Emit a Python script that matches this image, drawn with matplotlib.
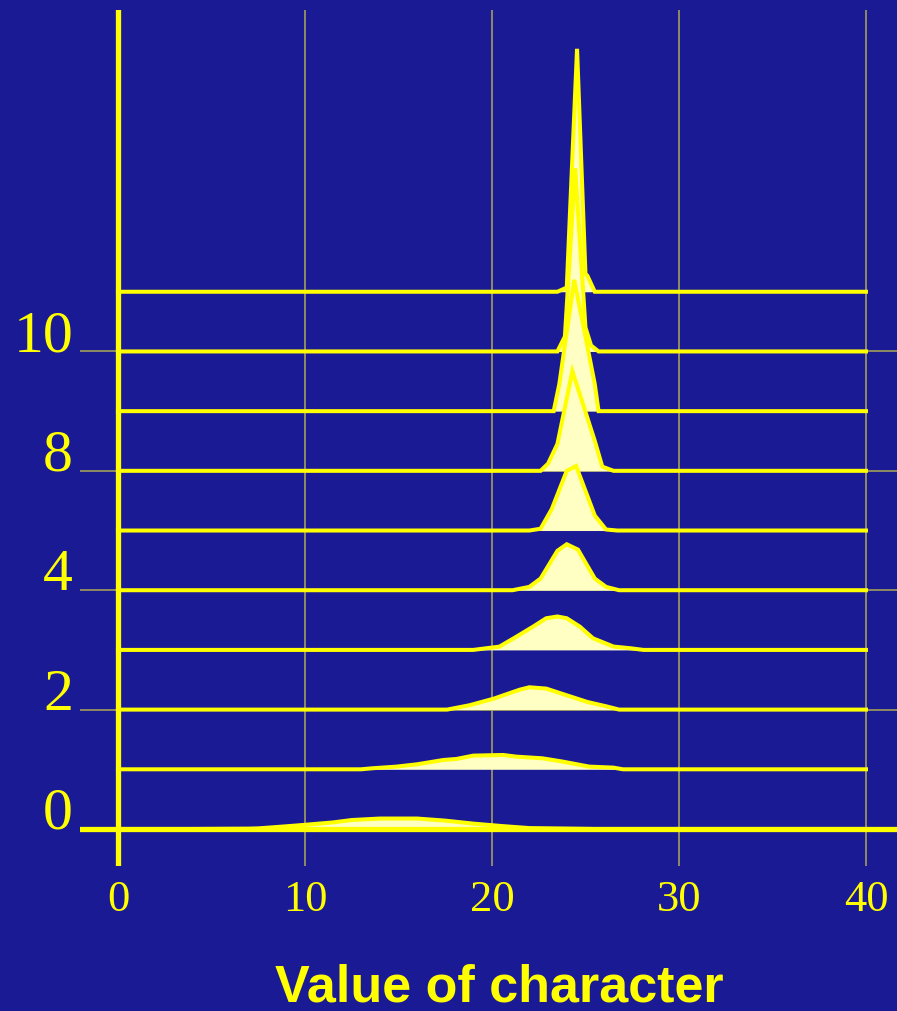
import numpy as np
import matplotlib as mpl
import matplotlib.pyplot as plt

mpl.rcParams['figure.dpi'] = 100

# spread of the character value, one row per generation (heights in row units)
g0_x = [4, 7, 7.5, 9, 10, 11.5, 12.5, 14, 16, 17.5, 19, 20.5, 22, 25.5]
g0_h = [0, 0.005, 0.01, 0.045, 0.07, 0.11, 0.15, 0.175, 0.175, 0.14, 0.09, 0.05, 0.015, 0]

g1_x = [13.0, 13.6, 14.9, 16.0, 17.4, 18.1, 19.0, 20.6, 21.3, 22.7, 23.8, 25.2, 26.5, 27.0]
g1_h = [0, 0.017, 0.045, 0.084, 0.156, 0.173, 0.229, 0.24, 0.212, 0.184, 0.128, 0.045, 0.028, 0]

g2_x = [17.6, 18.8, 20.1, 20.8, 21.5, 22.0, 22.9, 23.8, 25.1, 26.1, 26.8]
g2_h = [0, 0.073, 0.184, 0.26, 0.335, 0.374, 0.352, 0.26, 0.128, 0.056, 0]

g3_x = [19.0, 19.5, 20.4, 21.3, 22.2, 22.9, 23.5, 24.0, 24.7, 25.4, 26.5, 27.4, 28.1]
g3_h = [0, 0.02, 0.055, 0.22, 0.39, 0.53, 0.56, 0.53, 0.39, 0.195, 0.056, 0.028, 0]

g4_x = [21.1, 22.0, 22.6, 23.5, 24.0, 24.6, 25.5, 26.1, 26.8]
g4_h = [0, 0.056, 0.195, 0.66, 0.77, 0.68, 0.195, 0.056, 0]

g5_x = [22.0, 22.6, 23.2, 24.0, 24.5, 25.5, 26.1, 26.7]
g5_h = [0, 0.03, 0.36, 1.0, 1.08, 0.25, 0.017, 0]

g6_x = [22.6, 23.0, 23.5, 24.3, 25.5, 25.9, 26.5]
g6_h = [0, 0.12, 0.45, 1.67, 0.5, 0.07, 0]

g7_x = [23.3, 23.6, 24.4, 25.5, 25.7]
g7_h = [0, 0.45, 2.2, 0.45, 0]

g8_x = [23.5, 23.9, 24.45, 25.0, 25.3, 25.7]
g8_h = [0, 0.25, 3.07, 0.4, 0.1, 0]

g9_x = [23.5, 24.0, 24.55, 25.0, 25.1, 25.5]
g9_h = [0, 0.07, 4.07, 0.3, 0.27, 0]

rows = [(g0_x, g0_h), (g1_x, g1_h), (g2_x, g2_h), (g3_x, g3_h), (g4_x, g4_h),
        (g5_x, g5_h), (g6_x, g6_h), (g7_x, g7_h), (g8_x, g8_h), (g9_x, g9_h)]

y_ticks = [0, 2, 4, 6, 8]
y_labels = ['0', '2', '4', '8', '10']
x_ticks = [0, 10, 20, 30, 40]

bg = '#1b1a95'
yel = '#ffff00'
pale = '#ffffc4'
grid = '#a39d5a'

fig = plt.figure(figsize=(8.97, 10.11), facecolor=bg)
ax = fig.add_axes([80/897, 145/1011, 817/897, 856/1011])
ax.set_facecolor(bg)

# top rows first so lower rows sit on top of them
for k in range(len(rows) - 1, -1, -1):
    xs, hs = rows[k]
    xx = np.array([0] + list(xs) + [40], dtype='double')
    hh = np.array([0] + list(hs) + [0], dtype='double')
    z = 10 + (len(rows) - k) * 2
    ax.fill_between(xx, k, k + hh, color=pale, lw=0, zorder=z)
    ax.plot(xx, k + hh, color=yel, lw=2.9, solid_joinstyle='miter', zorder=z + 1)

ax.axvline(0, color=yel, lw=3.8, zorder=50)
ax.axhline(0, color=yel, lw=3.8, zorder=50)

ax.set_xlim(-2.03, 41.66)
ax.set_ylim(-0.62, 13.72)
ax.set_xticks(x_ticks)
ax.set_yticks(y_ticks)
ax.set_yticklabels(y_labels)
ax.grid(True, color=grid, lw=1.2, zorder=1)
ax.set_axisbelow(True)
for s in ax.spines.values():
    s.set_visible(False)

ax.tick_params(axis='both', length=0, colors=yel)
ax.tick_params(axis='y', pad=5, labelsize=43)
ax.tick_params(axis='x', pad=10, labelsize=32)
for lab in ax.get_yticklabels() + ax.get_xticklabels():
    lab.set_family('Liberation Serif')
for lab in ax.get_yticklabels():
    lab.set_va('baseline')

fig.text(0.557, 1 - 1002/1011, 'Value of character', color=yel, fontsize=37.5,
         fontweight='bold', family='Liberation Sans', ha='center', va='baseline')

plt.savefig('out.png', facecolor=bg)
